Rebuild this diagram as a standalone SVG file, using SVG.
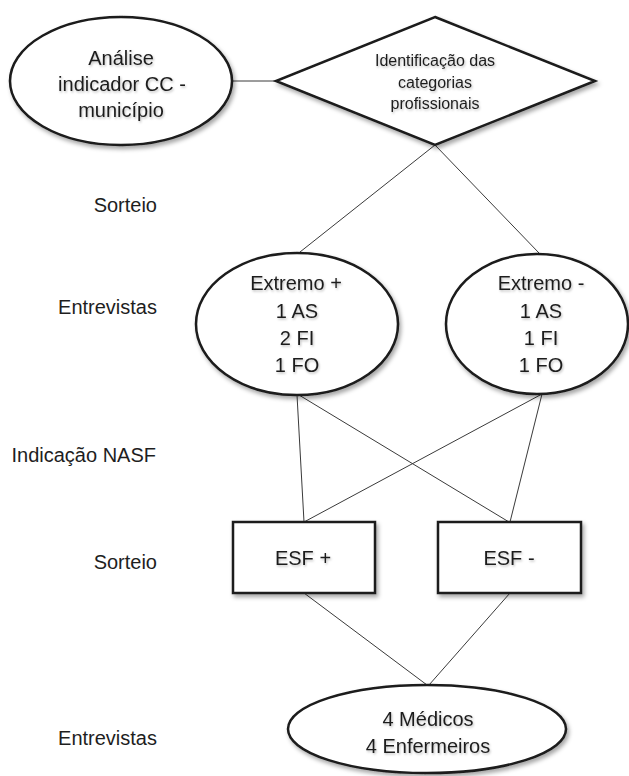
<svg xmlns="http://www.w3.org/2000/svg" width="629" height="776" viewBox="0 0 629 776">
  <style>
    .shape { fill: #ffffff; stroke: #1a1a1a; stroke-width: 2.5; filter: url(#shadow); }
    .conn { stroke: #3a3a3a; stroke-width: 1; fill: none; }
    .t { font-family: "Liberation Sans", Arial, sans-serif; font-size: 20px; fill: #1e1e1e; text-anchor: middle; filter: url(#tshadow); }
    .small { font-size: 16px; }
    .label { text-anchor: end; filter: none; }
  </style>
  <defs>
    <filter id="shadow" x="-20%" y="-20%" width="140%" height="140%">
      <feDropShadow dx="2" dy="3" stdDeviation="2" flood-color="#000000" flood-opacity="0.35"/>
    </filter>
    <filter id="tshadow" x="-10%" y="-30%" width="120%" height="160%">
      <feDropShadow dx="1" dy="1.5" stdDeviation="1.2" flood-color="#000000" flood-opacity="0.25"/>
    </filter>
  </defs>
  <rect x="0" y="0" width="629" height="776" fill="#ffffff"/>

  <g id="connectors">
    <line class="conn" x1="232" y1="81" x2="276" y2="81"/>
    <line class="conn" x1="435" y1="145" x2="300" y2="252"/>
    <line class="conn" x1="435" y1="145" x2="539" y2="253"/>
    <line class="conn" x1="297" y1="395" x2="304" y2="522"/>
    <line class="conn" x1="299" y1="395" x2="509" y2="522"/>
    <line class="conn" x1="542" y1="394" x2="304" y2="522"/>
    <line class="conn" x1="542" y1="394" x2="510" y2="522"/>
    <line class="conn" x1="304" y1="593" x2="427" y2="685"/>
    <line class="conn" x1="510" y1="593" x2="429" y2="685"/>
  </g>

  <g id="labels">
    <text class="t label" x="157" y="212">Sorteio</text>
    <text class="t label" x="157" y="314">Entrevistas</text>
    <text class="t label" x="156" y="462">Indicação NASF</text>
    <text class="t label" x="157" y="569">Sorteio</text>
    <text class="t label" x="157" y="745">Entrevistas</text>
  </g>

  <g id="node-analise">
    <ellipse class="shape" cx="121" cy="81" rx="111" ry="64"/>
    <text class="t" x="121" y="65">Análise</text>
    <text class="t" x="122" y="91">indicador CC -</text>
    <text class="t" x="121" y="117">município</text>
  </g>

  <g id="node-identificacao">
    <polygon class="shape" points="435,17 595,81 435,145 276,81"/>
    <text class="t small" x="435" y="66">Identificação das</text>
    <text class="t small" x="435" y="88">categorias</text>
    <text class="t small" x="435" y="109">profissionais</text>
  </g>

  <g id="node-extremo-mais">
    <ellipse class="shape" cx="297" cy="324" rx="101" ry="71"/>
    <text class="t" x="296" y="290">Extremo +</text>
    <text class="t" x="297" y="318">1 AS</text>
    <text class="t" x="297" y="345">2 FI</text>
    <text class="t" x="297" y="372">1 FO</text>
  </g>

  <g id="node-extremo-menos">
    <ellipse class="shape" cx="537" cy="324" rx="91" ry="70"/>
    <text class="t" x="541" y="290">Extremo -</text>
    <text class="t" x="541" y="318">1 AS</text>
    <text class="t" x="541" y="345">1 FI</text>
    <text class="t" x="541" y="372">1 FO</text>
  </g>

  <g id="node-esf-mais">
    <rect class="shape" x="233" y="522" width="142" height="71"/>
    <text class="t" x="303" y="565">ESF +</text>
  </g>

  <g id="node-esf-menos">
    <rect class="shape" x="438" y="522" width="143" height="71"/>
    <text class="t" x="509" y="565">ESF -</text>
  </g>

  <g id="node-entrevistas-final">
    <ellipse class="shape" cx="427" cy="729" rx="139" ry="44"/>
    <text class="t" x="428" y="726">4 Médicos</text>
    <text class="t" x="428" y="753">4 Enfermeiros</text>
  </g>
</svg>
